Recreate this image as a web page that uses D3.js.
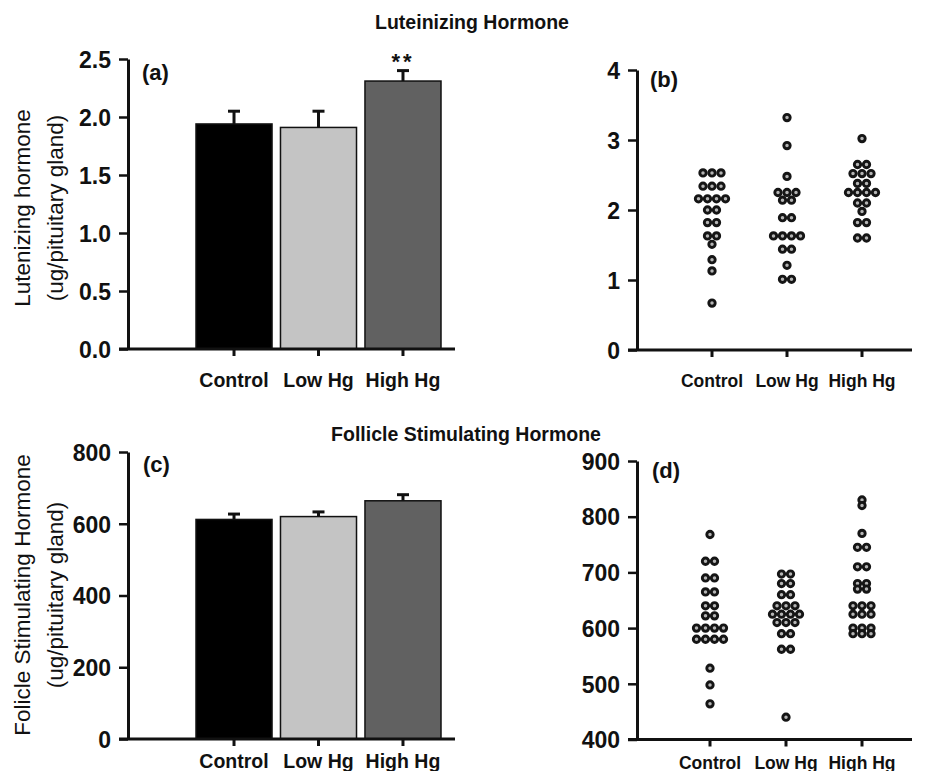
<!DOCTYPE html>
<html>
<head>
<meta charset="utf-8">
<script src="https://cdn.jsdelivr.net/npm/d3@7"></script>
<style>
  body { margin: 0; background: #fff; }
  text { font-family: "Liberation Sans", Arial, sans-serif; fill: #111; }
  .tick-label { font-size: 23px; font-weight: bold; }
  .cat-label { font-size: 19.5px; font-weight: bold; }
  .dot-panel .cat-label { font-size: 17.5px; }
  .axis-title { font-size: 22.5px; }
  .panel-title { font-size: 19.5px; font-weight: bold; }
  .panel-tag { font-size: 22px; font-weight: bold; }
</style>
</head>
<body>
<svg id="chart" width="933" height="771"></svg>
<script>
// groups shared by all four panels
const groups = ["Control", "Low Hg", "High Hg"];
const barColors = ["#000000", "#c4c4c4", "#616161"];

// (a) LH means + SEM
const lhMeans = [1.94, 1.91, 2.31];
const lhErrors = [0.11, 0.14, 0.09];
const lhTicks = [0, 0.5, 1.0, 1.5, 2.0, 2.5];

// (b) LH individual values
const lhControl = [2.53, 2.53, 2.53, 2.34, 2.34, 2.34, 2.16, 2.16, 2.16, 2.16, 2.0, 2.0, 1.82, 1.82, 1.63, 1.63, 1.51, 1.29, 1.13, 0.67];
const lhLow = [3.32, 2.92, 2.48, 2.25, 2.25, 2.25, 2.14, 2.14, 1.89, 1.89, 1.63, 1.63, 1.63, 1.63, 1.44, 1.44, 1.21, 1.01, 1.01];
const lhHigh = [3.02, 2.65, 2.65, 2.52, 2.52, 2.52, 2.38, 2.38, 2.25, 2.25, 2.25, 2.25, 2.1, 2.1, 1.98, 1.82, 1.82, 1.6, 1.6];
const lhDotTicks = [0, 1, 2, 3, 4];

// (c) FSH means + SEM
const fshMeans = [612, 620, 664];
const fshErrors = [15, 13, 17];
const fshTicks = [0, 200, 400, 600, 800];

// (d) FSH individual values
const fshControl = [768, 720, 720, 690, 690, 665, 665, 640, 640, 622, 622, 600, 600, 600, 600, 580, 580, 580, 580, 528, 498, 464];
const fshLow = [697, 697, 680, 680, 660, 660, 640, 640, 640, 625, 625, 625, 625, 610, 610, 610, 590, 590, 562, 562, 440];
const fshHigh = [830, 820, 770, 745, 745, 710, 710, 680, 680, 670, 670, 640, 640, 640, 625, 625, 625, 600, 600, 600, 590, 590, 590];
const fshDotTicks = [400, 500, 600, 700, 800, 900];

const svg = d3.select("#chart");

// draws left axis + baseline with tick marks under each group
function drawFrame(g, y, ticks, fmt, xLeft, xRight, xCenters, labelGap) {
  const yAxis = d3.axisLeft(y).tickValues(ticks).tickFormat(fmt).tickSize(9).tickSizeOuter(0).tickPadding(8);
  const ya = g.append("g").attr("transform", `translate(${xLeft},0)`).call(yAxis);
  ya.select(".domain").attr("stroke", "#111").attr("stroke-width", 3);
  ya.selectAll(".tick line").attr("stroke", "#111").attr("stroke-width", 2.5);
  ya.selectAll(".tick text").attr("class", "tick-label").attr("dy", "0.36em");

  const y0 = y.range()[0];
  g.append("line")
    .attr("x1", xLeft - 9).attr("x2", xRight)
    .attr("y1", y0).attr("y2", y0)
    .attr("stroke", "#111").attr("stroke-width", 3);
  g.selectAll(".xtick").data(groups).join("line")
    .attr("x1", (d) => xCenters(d)).attr("x2", (d) => xCenters(d))
    .attr("y1", y0).attr("y2", y0 + 7)
    .attr("stroke", "#111").attr("stroke-width", 3);
  g.selectAll(".cat").data(groups).join("text")
    .attr("class", "cat-label")
    .attr("x", (d) => xCenters(d)).attr("y", y0 + labelGap)
    .attr("text-anchor", "middle")
    .text((d) => d);
}

function drawBars(g, x, y, means, errors) {
  const rows = groups.map((k, i) => ({ k, m: means[i], e: errors[i], c: barColors[i] }));
  // error bars first so the bar sits on top of the lower half
  g.selectAll(".err").data(rows).join("line")
    .attr("x1", (d) => x(d.k) + x.bandwidth() / 2).attr("x2", (d) => x(d.k) + x.bandwidth() / 2)
    .attr("y1", (d) => y(d.m)).attr("y2", (d) => y(d.m + d.e))
    .attr("stroke", "#111").attr("stroke-width", 3);
  g.selectAll(".cap").data(rows).join("line")
    .attr("x1", (d) => x(d.k) + x.bandwidth() / 2 - 6).attr("x2", (d) => x(d.k) + x.bandwidth() / 2 + 6)
    .attr("y1", (d) => y(d.m + d.e)).attr("y2", (d) => y(d.m + d.e))
    .attr("stroke", "#111").attr("stroke-width", 3);
  g.selectAll(".bar").data(rows).join("rect")
    .attr("x", (d) => x(d.k)).attr("width", x.bandwidth())
    .attr("y", (d) => y(d.m)).attr("height", (d) => y(0) - y(d.m))
    .attr("fill", (d) => d.c).attr("stroke", "#111").attr("stroke-width", 1.5);
}

// simple swarm: equal values sit side by side on one row
function drawDots(g, x, y, series) {
  const dots = [];
  series.forEach((vals, i) => {
    const rows = d3.group(vals, (v) => v);
    rows.forEach((list, v) => {
      list.forEach((_, j) => dots.push({ k: groups[i], v, off: (j - (list.length - 1) / 2) * 9 }));
    });
  });
  g.selectAll(".dot").data(dots).join("circle")
    .attr("cx", (d) => x(d.k) + d.off).attr("cy", (d) => y(d.v))
    .attr("r", 3.2)
    .attr("fill", "#b5b5b5").attr("stroke", "#151515").attr("stroke-width", 2.9);
}

// ---------- top row: Luteinizing Hormone ----------
svg.append("text").attr("class", "panel-title").attr("x", 472).attr("y", 29).attr("text-anchor", "middle").text("Luteinizing Hormone");

const gA = svg.append("g");
const xA = d3.scaleBand().domain(groups).range([196, 441]).paddingInner(0.1);
const yA = d3.scaleLinear().domain([0, 2.5]).range([349, 59]);
drawBars(gA, xA, yA, lhMeans, lhErrors);
drawFrame(gA, yA, lhTicks, d3.format(".1f"), 128, 455, (d) => xA(d) + xA.bandwidth() / 2, 38);
gA.append("text").attr("class", "panel-tag").attr("x", 142).attr("y", 80).text("(a)");
gA.append("text").attr("x", xA("High Hg") + xA.bandwidth() / 2).attr("y", yA(lhMeans[2] + lhErrors[2]) - 2)
  .attr("text-anchor", "middle").style("font-size", "22px").style("font-weight", "bold").style("letter-spacing", "3px").text("**");
gA.append("text").attr("class", "axis-title").attr("transform", "translate(30,208) rotate(-90)").attr("text-anchor", "middle").text("Lutenizing hormone");
gA.append("text").attr("class", "axis-title").attr("transform", "translate(63,208) rotate(-90)").attr("text-anchor", "middle").text("(ug/pituitary gland)");

const gB = svg.append("g").attr("class", "dot-panel");
const xB = d3.scalePoint().domain(groups).range([712, 862]);
const yB = d3.scaleLinear().domain([0, 4]).range([350, 70]);
drawDots(gB, xB, yB, [lhControl, lhLow, lhHigh]);
drawFrame(gB, yB, lhDotTicks, d3.format("d"), 637, 912, (d) => xB(d), 37);
gB.append("text").attr("class", "panel-tag").attr("x", 650).attr("y", 87).text("(b)");

// ---------- bottom row: Follicle Stimulating Hormone ----------
svg.append("text").attr("class", "panel-title").attr("x", 466).attr("y", 441).attr("text-anchor", "middle").text("Follicle Stimulating Hormone");

const gC = svg.append("g");
const xC = d3.scaleBand().domain(groups).range([196, 441]).paddingInner(0.1);
const yC = d3.scaleLinear().domain([0, 800]).range([739, 452]);
drawBars(gC, xC, yC, fshMeans, fshErrors);
drawFrame(gC, yC, fshTicks, d3.format("d"), 128, 455, (d) => xC(d) + xC.bandwidth() / 2, 29);
gC.append("text").attr("class", "panel-tag").attr("x", 143).attr("y", 472).text("(c)");
gC.append("text").attr("class", "axis-title").attr("transform", "translate(30,595) rotate(-90)").attr("text-anchor", "middle").text("Folicle Stimulating Hormone");
gC.append("text").attr("class", "axis-title").attr("transform", "translate(63,595) rotate(-90)").attr("text-anchor", "middle").text("(ug/pituitary gland)");

const gD = svg.append("g").attr("class", "dot-panel");
const xD = d3.scalePoint().domain(groups).range([710, 862]);
const yD = d3.scaleLinear().domain([400, 900]).range([739.5, 461]);
drawDots(gD, xD, yD, [fshControl, fshLow, fshHigh]);
drawFrame(gD, yD, fshDotTicks, d3.format("d"), 637, 912, (d) => xD(d), 29);
gD.append("text").attr("class", "panel-tag").attr("x", 652).attr("y", 478).text("(d)");
</script>
</body>
</html>
